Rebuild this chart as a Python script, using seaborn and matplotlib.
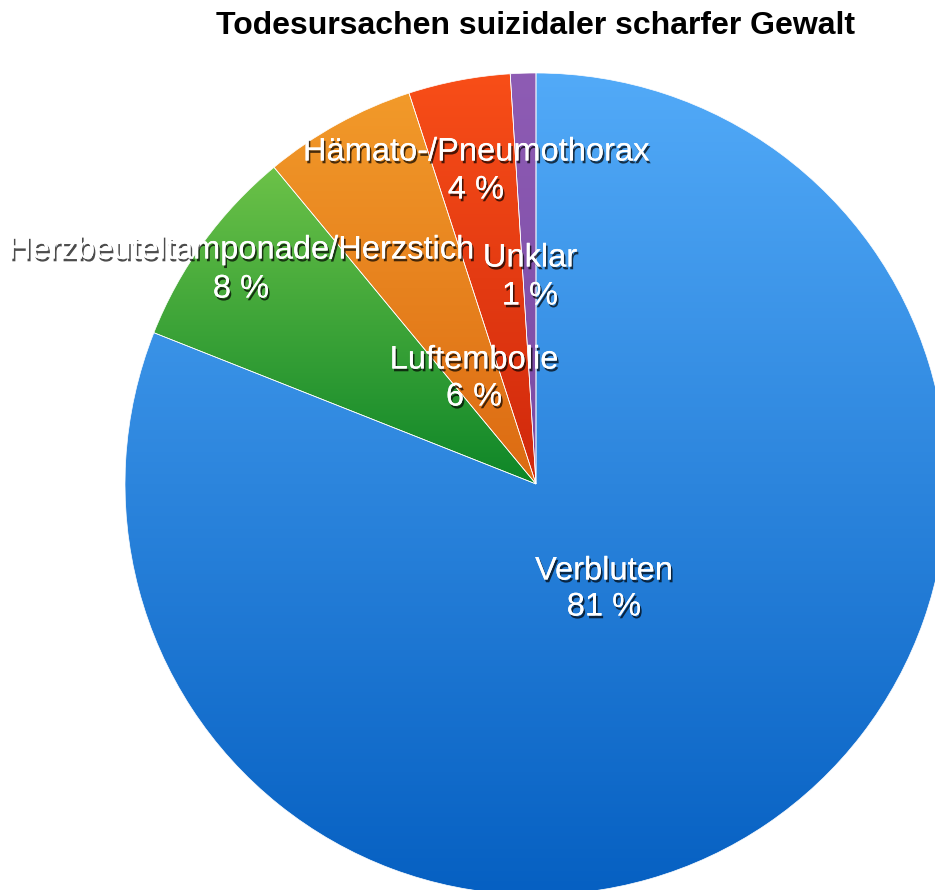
import numpy as np
import matplotlib
matplotlib.use("Agg")
import matplotlib.pyplot as plt
import matplotlib.patheffects as pe
from matplotlib.colors import LinearSegmentedColormap
import seaborn as sns

sns.set_theme(style="white")
plt.rcParams['font.family'] = ['Liberation Sans', 'DejaVu Sans']

# ---- data ----
categories = ["Verbluten", "Herzbeuteltamponade/Herzstich", "Luftembolie",
              "Hämato-/Pneumothorax", "Unklar"]
values = [81, 8, 6, 4, 1]
pct_labels = ["81 %", "8 %", "6 %", "4 %", "1 %"]
title = "Todesursachen suizidaler scharfer Gewalt"

# gradient colours (top, bottom) per slice
grad_top = ["#52aaf8", "#6cc248", "#f29a2a", "#f84e18", "#8e5cb4"]
grad_bot = ["#0660c2", "#0e8628", "#dc6a12", "#d0280c", "#7a4aa4"]

W, H = 935, 890
fig = plt.figure(figsize=(W / 100, H / 100), dpi=100)
ax = fig.add_axes([0, 0, 1, 1])
ax.set_xlim(0, W)
ax.set_ylim(0, H)
ax.axis("off")

cx, cy, R = 536, H - 484, 411
wedges, _ = ax.pie(values, startangle=90, counterclock=False,
                   center=(cx, cy), radius=R, colors=grad_top,
                   wedgeprops=dict(edgecolor="white", linewidth=0.5))
ax.set_xlim(0, W)
ax.set_ylim(0, H)
ax.set_aspect("auto")

grad = np.linspace(1, 0, 256).reshape(-1, 1)
for w, ct, cb in zip(wedges, grad_top, grad_bot):
    ext = w.get_path().get_extents()
    cmap = LinearSegmentedColormap.from_list("g", [cb, ct])
    im = ax.imshow(grad, cmap=cmap, extent=[ext.x0, ext.x1, ext.y0, ext.y1],
                   aspect="auto", origin="upper", zorder=w.get_zorder() - 0.5,
                   interpolation="bilinear")
    im.set_clip_path(w)
    w.set_facecolor("none")
ax.set_xlim(0, W)
ax.set_ylim(0, H)

# label positions (pixel coords from top): name line, pct line
label_pos = {
    "Verbluten": (604, 571, 607),
    "Herzbeuteltamponade/Herzstich": (241, 250, 289),
    "Luftembolie": (474, 360, 397),
    "Hämato-/Pneumothorax": (476, 152, 190),
    "Unklar": (530, 258, 296),
}
effects = [pe.withSimplePatchShadow(offset=(1.2, -2.0), shadow_rgbFace="black", alpha=0.7),
           pe.Normal()]
for name, pct in zip(categories, pct_labels):
    x, y1, y2 = label_pos[name]
    ax.text(x, H - y1, name, color="white", fontsize=23.5, ha="center", va="center",
            path_effects=effects, zorder=10)
    ax.text(x, H - y2, pct, color="white", fontsize=23.5, ha="center", va="center",
            path_effects=effects, zorder=10)

ax.text(536, H - 26, title, fontsize=23, fontweight="bold", ha="center",
        va="center", color="black", zorder=10)

fig.savefig("out.png", dpi=100)
